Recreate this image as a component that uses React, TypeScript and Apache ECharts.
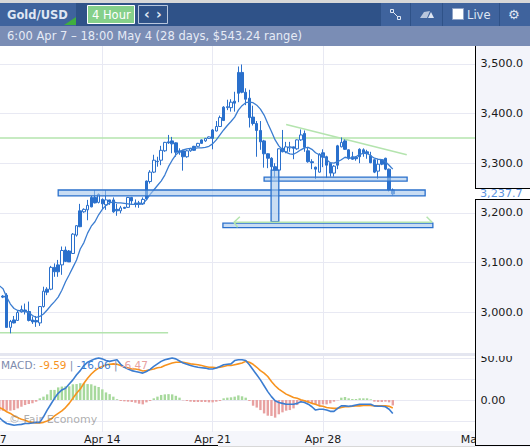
import React, { useEffect, useRef } from "react";
import * as echarts from "echarts";

const SLOT_COUNT = 147;
const tickLabels: Record<number, string> = { 0: "Apr 7", 30: "Apr 14", 60: "Apr 21", 90: "Apr 28", 132: "May 5" };
const gridSlots = [30, 60, 90, 132];
const priceTicks = [3000, 3100, 3200, 3300, 3400, 3500];
const macdGrid = [-25, 0, 25, 50];
const macdTicks = [0, 50];

// first candle sits at slot 3; [open, close, low, high]
const candleStart = 3;
const candles: number[][] = [
  [3032,3030,3028,3034],[3034,2969,2969,3038],[2969,2981,2957,2984],[2984,2978,2977,2992],[2983,2999,2983,3003],
  [3000,3005,2999,3013],[3004,3001,2995,3017],[3001,2983,2981,3021],[2984,2980,2976,2991],[2983,2980,2970,2992],
  [2978,3011,2972,3012],[3011,3042,3009,3051],[3046,3040,3034,3050],[3046,3090,3044,3093],[3090,3081,3071,3098],
  [3095,3081,3071,3105],[3095,3124,3075,3132],[3125,3102,3101,3132],[3123,3101,3101,3125],[3118,3157,3117,3159],
  [3155,3174,3152,3175],[3204,3172,3171,3218],[3202,3207,3200,3209],[3206,3215,3185,3226],[3231,3212,3211,3234],
  [3231,3220,3219,3246],[3221,3237,3219,3239],[3227,3218,3207,3229],[3216,3226,3206,3246],[3226,3222,3216,3226],
  [3226,3202,3200,3231],[3207,3204,3194,3218],[3204,3210,3199,3214],[3211,3209,3208,3212],[3211,3231,3210,3232],
  [3231,3224,3218,3232],[3220,3218,3211,3227],[3220,3218,3210,3224],[3218,3227,3216,3231],[3264,3228,3226,3265],
  [3263,3282,3259,3286],[3282,3306,3280,3317],[3304,3303,3293,3313],[3306,3326,3296,3335],[3325,3342,3323,3343],
  [3343,3341,3339,3357],[3345,3339,3320,3353],[3341,3322,3313,3342],[3325,3322,3317,3330],[3325,3313,3285,3327],
  [3313,3325,3311,3327],[3325,3329,3323,3331],[3334,3326,3325,3335],[3334,3340,3333,3341],[3347,3340,3339,3348],
  [3345,3350,3343,3351],[3350,3353,3349,3354],[3367,3350,3328,3369],[3365,3374,3364,3385],[3374,3392,3373,3396],
  [3413,3386,3385,3415],[3412,3414,3407,3428],[3412,3423,3404,3429],[3425,3421,3404,3444],[3483,3441,3423,3495],
  [3483,3443,3441,3499],[3443,3429,3417,3451],[3431,3392,3372,3448],[3393,3380,3376,3416],[3380,3366,3313,3385],
  [3366,3343,3327,3385],[3345,3319,3291,3347],[3319,3310,3290,3320],[3310,3293,3273,3312],[3293,3286,3269,3300],
  [3286,3329,3286,3330],[3330,3323,3322,3367],[3323,3333,3320,3343],[3331,3333,3323,3343],[3333,3330,3308,3333],
  [3329,3347,3327,3348],[3347,3357,3345,3368],[3360,3332,3323,3366],[3325,3303,3301,3333],[3303,3301,3288,3308],
  [3292,3288,3268,3293],[3282,3318,3281,3320],[3321,3312,3292,3328],[3313,3296,3270,3315],[3300,3280,3273,3301],
  [3280,3294,3273,3296],[3335,3296,3288,3337],[3333,3342,3332,3352],[3345,3328,3327,3348],[3327,3310,3307,3328],
  [3313,3308,3307,3323],[3312,3309,3305,3313],[3328,3313,3300,3330],[3327,3321,3313,3330],[3323,3319,3309,3327],
  [3315,3301,3300,3323],[3307,3282,3280,3308],[3284,3298,3268,3308],[3307,3298,3296,3308],[3310,3288,3286,3311],
  [3288,3246,3243,3289],[3246,3238,3235,3249],
];

// indicator lists start at slot 2
const indicatorStart = 2;
const movingAverage = [
  3053,3047,3030,3016,3007,3003,3002,3001,2999,2993,2989,2991,2996,3004,3013,3021,3030,3044,3061,3075,3090,3105,3127,3140,3159,3173,3182,3196,3207,3215,
  3220,3222,3220,3220,3219,3218,3217,3217,3217,3218,3226,3237,3246,3255,3264,3276,3293,3306,3317,3323,3327,3329,3330,3330,3331,3331,3332,3334,3339,3347,
  3357,3367,3376,3384,3393,3407,3416,3422,3423,3422,3417,3409,3397,3380,3364,3347,3335,3327,3322,3319,3318,3322,3327,3331,3332,3328,3321,3317,3317,3307,
  3301,3300,3303,3307,3312,3310,3311,3313,3318,3320,3320,3315,3310,3308,3307,3303,3296,3288,
];
const macdLine = [
  -21,-25,-28,-29,-30,-29.4,-29,-28,-28,-27.4,-26.6,-26.6,-20,-12,-5,2,8,12,14,19,24,30,35,41,45,47,49,50,49,47,
  46,47,48,42.5,39,37,35,34,33,32,34,36.5,40,43,46,48,49,50,49,46.5,44,42.5,41,40,39,38.5,38,37,37,38,
  40,42,42.5,43,47,48,48,47,42,36,30,24,17,10,4,-1,-3,-4,-5,-5,-5,-4,-2,-3,-5,-8,-12,-11,-11,-12,
  -13.5,-13.5,-10,-7,-7,-7.5,-7,-6,-5,-5,-5,-5,-7,-7.5,-7.5,-8,-11,-16.06,
];
const signalLine = [
  -9,-11,-14,-16,-19,-21,-23,-24,-26,-26.6,-27.4,-27.4,-26.6,-25,-23,-19,-16,-13,-9,-4,2,8,13,20,26,31,35,38,40,42,
  42.5,43,42.5,41,39,38.5,37,37,36,34.5,35,36,37,38.5,39,41,42.5,44,45,45,45,44,43,42.5,42,41,40,39,39,38.5,
  39,40,41,41,42,43,44,46,45,42.5,39,35,32,28,22,17,13,10,7,5,3,2,0.4,-0.8,-2.4,-4,-5,-7,-7.5,-9,
  -9.5,-10,-10,-9,-8,-8,-7.5,-7,-7,-6.5,-6.5,-6.5,-7,-7,-7,-7,-7.5,-9.59,
];
const histogram = [
  -12.7,-12.7,-12.7,-12.7,-12,-10,-8,-6,-4.8,-4,-2,2,4,6.7,12,12,15,16,16.3,16.3,18.7,19,20,20,19,18.7,17,15.5,12.7,9,
  7,4,1,-1.2,-1.6,-2,-2.4,-3.2,-4.4,-5.2,-2.8,-1.2,2,4,6,6.7,7,6.7,5,2.8,-0.4,-1.2,-2,-2.4,-2.4,-2.4,-2.4,-2.8,-2.8,-2,
  -1.2,2,2.8,3.2,4,5.5,4.4,2.8,-1.2,-6.8,-9,-12,-16,-18.7,-19,-21,-17,-14.7,-12.7,-12,-10,-6,-2.8,-2,-3.2,-4.4,-6,-6,-5.2,-5.2,
  -4,-2,-0.4,2.8,3.6,2,1.2,1.2,2,2,2,0.8,-2,-2.4,-2.4,-2,-2.8,-6.47,
];

// drawn objects, in [slot, price] units: [slotFrom, slotTo, priceTop, priceBottom]
const zones = [
  [18, 117.8, 3246, 3234],
  [74, 112.9, 3272, 3264],
  [75.9, 78, 3286, 3182],
  [62.8, 119.9, 3179, 3170],
];
const greenSegments: number[][][] = [
  [[0, 3351], [131.4, 3351]],
  [[0, 2958], [47.9, 2958]],
  [[80, 3378], [112.8, 3317]],
  [[65.8, 3181], [119.7, 3181]],
  [[67.4, 3192], [65.8, 3181], [66.8, 3171]],
  [[118.2, 3192], [119.7, 3181]],
];

const BLUE = "#2a70cc";
const LINE_BLUE = "#3b7dd1";
const ORANGE = "#f7931e";
const GRID = "#e8e9f3";
const PANEL = "#f3f4fa";
const FONT = "'DejaVu Sans', sans-serif";

const pad = (start: number, list: any[]) => {
  const out: any[] = new Array(start).fill("-").concat(list);
  while (out.length < SLOT_COUNT) out.push("-");
  return out;
};
const categories = Array.from({ length: SLOT_COUNT }, (_, i) => tickLabels[i] ?? String(i));
const isGridSlot = (i: number) => gridSlots.includes(i);
const isLabelSlot = (i: number) => tickLabels[i] !== undefined;

const rect = (x: number, y: number, w: number, h: number, fill: string, z = 100, extra: any = {}) => ({
  type: "rect", z, shape: { x, y, width: w, height: h }, style: { fill, ...extra }, silent: true,
});
const txt = (x: number, y: number, text: string, fill: string, size: number, weight = "normal", z = 110) => ({
  type: "text", z, x, y, silent: true,
  style: { text, fill, font: `${weight} ${size}px ${FONT}`, textVerticalAlign: "middle" },
});
const ln = (x1: number, y1: number, x2: number, y2: number, stroke: string, z = 120, lineWidth = 1) => ({
  type: "line", z, silent: true, shape: { x1, y1, x2, y2 }, style: { stroke, lineWidth },
});

const makeOption = (): any => ({
  animation: false,
  backgroundColor: "#ffffff",
  grid: [
    { left: -8, top: 45, width: 536.84, height: 305, outerBoundsMode: "none" },
    { left: -8, top: 356, width: 536.84, height: 76, outerBoundsMode: "none" },
  ],
  xAxis: [
    {
      gridIndex: 0, type: "category", data: categories, boundaryGap: false,
      axisLine: { show: false }, axisTick: { show: false }, axisLabel: { show: false },
      splitLine: { show: true, interval: (i: number) => isGridSlot(i), lineStyle: { color: GRID, width: 1 } },
    },
    {
      gridIndex: 1, type: "category", data: categories, boundaryGap: false,
      axisLine: { show: false }, axisTick: { show: false },
      axisLabel: { interval: (i: number) => isLabelSlot(i), color: "#1a1a1a", fontFamily: FONT, fontSize: 11, margin: 2, hideOverlap: false },
      splitLine: { show: true, interval: (i: number) => isGridSlot(i), lineStyle: { color: GRID, width: 1 } },
    },
    { gridIndex: 0, type: "value", min: 0, max: SLOT_COUNT - 1, show: false },
  ],
  yAxis: [
    {
      gridIndex: 0, type: "value", min: 2923.4, max: 3538.3, z: 0,
      axisLine: { show: false }, axisLabel: { show: false },
      axisTick: { show: false, customValues: priceTicks },
      splitLine: { show: true, lineStyle: { color: GRID, width: 1 } },
    },
    {
      gridIndex: 0, type: "value", min: 2923.4, max: 3538.3, position: "right", offset: -53.84, z: 200,
      axisLine: { show: false }, splitLine: { show: false },
      axisTick: { show: false, customValues: priceTicks },
      axisLabel: {
        customValues: priceTicks, color: "#1a1a1a", fontFamily: FONT, fontSize: 11.2, margin: 5.5,
        formatter: (v: number) => v.toLocaleString("en-US", { minimumFractionDigits: 1, maximumFractionDigits: 1 }),
      },
    },
    {
      gridIndex: 1, type: "value", min: -38.1, max: 52.4, z: 0,
      axisLine: { show: false }, axisLabel: { show: false },
      axisTick: { show: false, customValues: macdGrid },
      splitLine: { show: true, lineStyle: { color: GRID, width: 1 } },
    },
    {
      gridIndex: 1, type: "value", min: -38.1, max: 52.4, position: "right", offset: -53.84, z: 200,
      axisLine: { show: false }, splitLine: { show: false },
      axisTick: { show: false, customValues: macdTicks },
      axisLabel: {
        customValues: macdTicks, color: "#1a1a1a", fontFamily: FONT, fontSize: 11.2, margin: 5.5,
        formatter: (v: number) => v.toFixed(2),
      },
    },
  ],
  series: [
    ...greenSegments.slice(0, 3).map((seg) => ({
      type: "line", xAxisIndex: 2, yAxisIndex: 0, data: seg, symbol: "none", silent: true, z: 1,
      lineStyle: { color: "#b4e4ae", width: 1.5 },
    })),
    {
      type: "candlestick", xAxisIndex: 0, yAxisIndex: 0, data: pad(candleStart, candles), barWidth: 3, z: 2, silent: true,
      itemStyle: { color: "#ffffff", color0: BLUE, borderColor: BLUE, borderColor0: BLUE, borderWidth: 1 },
    },
    {
      type: "line", xAxisIndex: 0, yAxisIndex: 0, data: pad(indicatorStart, movingAverage), symbol: "none", silent: true, z: 3,
      lineStyle: { color: LINE_BLUE, width: 1.3 },
    },
    {
      type: "custom", xAxisIndex: 2, yAxisIndex: 0, data: zones, silent: true, z: 4, clip: false,
      renderItem: (_p: any, api: any) => {
        const a = api.coord([api.value(0), api.value(2)]);
        const b = api.coord([api.value(1), api.value(3)]);
        return {
          type: "rect",
          shape: { x: a[0], y: a[1], width: b[0] - a[0], height: b[1] - a[1] },
          style: { fill: "rgba(165,198,235,0.6)", stroke: BLUE, lineWidth: 1.3 },
        };
      },
      encode: { x: [0, 1], y: [2, 3] },
    },
    ...greenSegments.slice(3).map((seg) => ({
      type: "line", xAxisIndex: 2, yAxisIndex: 0, data: seg, symbol: "none", silent: true, z: 5,
      lineStyle: { color: "#b4e4ae", width: 1.5 },
    })),
    {
      type: "bar", xAxisIndex: 1, yAxisIndex: 2, data: pad(indicatorStart, histogram), barWidth: 2.4, silent: true, z: 2,
      itemStyle: { color: (p: any) => (p.value >= 0 ? "#a7d99c" : "#e8a1a1") },
    },
    {
      type: "line", xAxisIndex: 1, yAxisIndex: 2, data: pad(indicatorStart, signalLine), symbol: "none", silent: true, z: 3,
      lineStyle: { color: ORANGE, width: 1.6 },
    },
    {
      type: "line", xAxisIndex: 1, yAxisIndex: 2, data: pad(indicatorStart, macdLine), symbol: "none", silent: true, z: 4,
      lineStyle: { color: LINE_BLUE, width: 1.6 },
    },
  ],
  graphic: {
    elements: [
      // right price panels
      rect(475, 45, 55, 402, PANEL, 100),
      rect(475, 188, 55, 11, "#ffffff", 101),
      txt(480, 193.5, "3,237.7", "#5b92dd", 11.2, "normal", 210),
      ln(475.5, 45, 475.5, 188, "#000000", 230),
      ln(475.5, 199, 475.5, 446, "#000000", 230),
      ln(475, 188.5, 530, 188.5, "#000000", 230),
      ln(475, 199.5, 530, 199.5, "#000000", 230),
      ln(475, 445.5, 530, 445.5, "#000000", 230),
      // separators and bottom band
      rect(0, 353, 475, 3, "#e4e6f0", 220),
      rect(476, 350, 54, 6, PANEL, 220),
      rect(0, 431, 475, 15, "#f5f6fb", -1),
      ln(0, 445.5, 218, 445.5, "#000000", 230),
      rect(218, 446, 257, 1, "#d8d8d8", 230),
      // header
      rect(0, 0, 530, 3, "#d8d8d8", 240),
      rect(0, 3, 530, 23, "#2f5288", 240),
      rect(0, 26, 530, 20, "#7a8db5", 240),
      rect(0, 3, 76, 23, "#3f639d", 241),
      { type: "polygon", z: 242, silent: true, shape: { points: [[64, 25], [76, 25], [76, 17]] }, style: { fill: "#3fae3f" } },
      txt(7, 14.5, "Gold/USD", "#dfe6f3", 11.5, "bold", 250),
      rect(87.5, 5.5, 47, 18, "#85d08a", 242, { stroke: "#ffffff", lineWidth: 1 }),
      txt(92, 14.5, "4 Hour", "#ffffff", 11.5, "normal", 250),
      rect(138.5, 5.5, 29, 18, "rgba(0,0,0,0)", 242, { stroke: "#b8c6dd", lineWidth: 1 }),
      txt(144, 14, "\u2039", "#dfe6f3", 14, "bold", 250),
      txt(156, 14, "\u203a", "#dfe6f3", 14, "bold", 250),
      rect(381, 3, 149, 23, "#3f639d", 241),
      ln(410.5, 3, 410.5, 26, "#2f5288", 245),
      ln(442.5, 3, 442.5, 26, "#2f5288", 245),
      ln(499.5, 3, 499.5, 26, "#2f5288", 245),
      rect(390.5, 9.5, 3, 3, "rgba(0,0,0,0)", 246, { stroke: "#dfe6f3", lineWidth: 1 }),
      rect(397.5, 16.5, 3, 3, "rgba(0,0,0,0)", 246, { stroke: "#dfe6f3", lineWidth: 1 }),
      ln(393, 12, 398, 17, "#dfe6f3", 246),
      { type: "polygon", z: 246, silent: true, shape: { points: [[420, 18], [424, 12], [430, 11], [427, 18]] }, style: { fill: "#b8c6dd" } },
      { type: "polygon", z: 246, silent: true, shape: { points: [[428, 18], [431, 12], [434, 18]] }, style: { fill: "#dfe6f3" } },
      rect(452.5, 8.5, 11, 11, "#ffffff", 246, { stroke: "#8fa3c6", lineWidth: 1 }),
      txt(467, 14.5, "Live", "#dfe6f3", 11.5, "normal", 250),
      txt(508, 14.5, "\u2699", "#dfe6f3", 13, "normal", 250),
      txt(7, 36, "6:00 Apr 7 \u2013 18:00 May 4 (28 days, $543.24 range)", "#e6ebf5", 11.5, "normal", 250),
      // indicator legend and watermark
      {
        type: "text", z: 215, x: 1, y: 364.5, silent: true,
        style: {
          text: "{a|MACD:} {b|-9.59} {a||} {c|-16.06} {a||} {d|-6.47}",
          font: `10.5px ${FONT}`, textVerticalAlign: "middle",
          rich: {
            a: { fill: "#7d8bad", font: `10.5px ${FONT}` },
            b: { fill: ORANGE, font: `10.5px ${FONT}` },
            c: { fill: "#3b7dd1", font: `10.5px ${FONT}` },
            d: { fill: "#e8a1a1", font: `10.5px ${FONT}` },
          },
        },
      },
      txt(9, 419.5, "\u00a9 Fair Economy", "rgba(120,120,120,0.6)", 11, "normal", 215),
    ],
  },
});

export default function App() {
  const ref = useRef<HTMLDivElement>(null);
  useEffect(() => {
    document.body.style.margin = "0";
    document.body.style.overflow = "hidden";
    const chart = echarts.init(ref.current!, undefined, { renderer: "svg" });
    chart.setOption(makeOption());
    return () => chart.dispose();
  }, []);
  return <div ref={ref} style={{ width: 530, height: 447 }} />;
}
